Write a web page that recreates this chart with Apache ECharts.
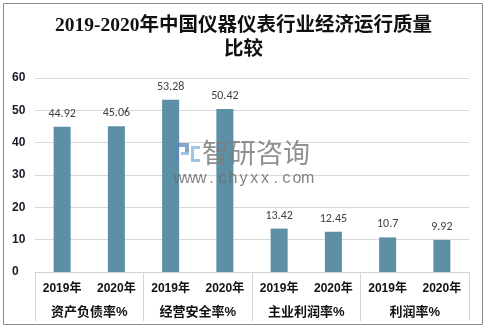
<!DOCTYPE html>
<html>
<head>
<meta charset="utf-8">
<script src="https://cdn.jsdelivr.net/npm/echarts@6/dist/echarts.min.js"></script>
<style>
  html, body { margin: 0; padding: 0; background: #fff; }
  #chart { width: 487px; height: 329px; }
</style>
</head>
<body>
<div id="chart"></div>
<script>
// Indicator groups and years
const groups = ['资产负债率%', '经营安全率%', '主业利润率%', '利润率%'];
const years = ['2019年', '2020年'];
// Values per bar, in order: group by group, 2019 then 2020
const values = [44.92, 45.06, 53.28, 50.42, 13.42, 12.45, 10.7, 9.92];
const yTicks = [0, 10, 20, 30, 40, 50, 60];

const yearCats = [];
groups.forEach(() => years.forEach(y => yearCats.push(y)));

const chart = echarts.init(document.getElementById('chart'), null, { renderer: 'canvas' });

// watermark: logo blocks, brand name and spaced-out web address
const wmColor = '#6f6f6f';
const wm = [
  { type: 'rect', shape: { x: 175, y: 143, width: 14, height: 4 }, style: { fill: '#5f86b8', opacity: 0.75 } },
  { type: 'rect', shape: { x: 175, y: 147, width: 4, height: 15 }, style: { fill: '#5f86b8', opacity: 0.75 } },
  { type: 'rect', shape: { x: 185, y: 147, width: 4, height: 6 }, style: { fill: '#5f86b8', opacity: 0.75 } },
  { type: 'rect', shape: { x: 181, y: 152, width: 8, height: 3 }, style: { fill: '#8dbde3', opacity: 0.85 } },
  { type: 'rect', shape: { x: 191, y: 146, width: 9, height: 3 }, style: { fill: '#8dbde3', opacity: 0.85 } },
  { type: 'rect', shape: { x: 191, y: 149, width: 3, height: 11 }, style: { fill: '#8dbde3', opacity: 0.85 } },
  { type: 'rect', shape: { x: 191, y: 159, width: 9, height: 3 }, style: { fill: '#8dbde3', opacity: 0.85 } },
  {
    type: 'text', left: 202, top: 139,
    style: {
      text: '智研咨询',
      fontFamily: "'Noto Sans CJK SC', sans-serif",
      fontSize: 27,
      fill: '#7d7d7d',
      opacity: 0.85
    }
  }
];
const site = 'www.chyxx.com';
const pitch = 10.7;
site.split('').forEach((ch, i) => {
  wm.push({
    type: 'text',
    x: 174 + pitch * i + pitch / 2,
    y: 179,
    style: {
      text: ch,
      align: 'center',
      verticalAlign: 'middle',
      fontFamily: "'Liberation Sans', Arial, sans-serif",
      fontSize: 16,
      fill: wmColor,
      opacity: 0.85
    }
  });
});
wm.forEach(g => { g.silent = true; g.z = 10; });

const option = {
  backgroundColor: '#fff',
  animation: false,
  title: {
    text: '2019-2020年中国仪器仪表行业经济运行质量\n比较',
    left: 'center',
    top: 9,
    textStyle: {
      fontFamily: "'Liberation Serif', 'Noto Sans CJK SC', serif",
      fontSize: 19.5,
      fontWeight: 'bold',
      color: '#111',
      lineHeight: 24
    }
  },
  grid: { left: 35, right: 18, top: 78, bottom: 57, containLabel: false },
  xAxis: [
    {
      type: 'category',
      data: yearCats,
      position: 'bottom',
      axisLine: { show: true, lineStyle: { color: '#d4d4d4', width: 1 } },
      axisTick: { show: false },
      axisLabel: {
        interval: 0,
        margin: 11,
        fontFamily: "Arial, 'Liberation Sans', 'Noto Sans CJK SC', sans-serif",
        fontSize: 12,
        fontWeight: 'bold',
        color: '#111'
      }
    },
    {
      type: 'category',
      data: groups,
      position: 'bottom',
      axisLine: { show: false },
      axisTick: {
        show: true,
        interval: 0,
        length: 49,
        lineStyle: { color: '#d4d4d4', width: 1 }
      },
      axisLabel: {
        interval: 0,
        margin: 34,
        fontFamily: "Arial, 'Liberation Sans', 'Noto Sans CJK SC', sans-serif",
        fontSize: 13,
        fontWeight: 'bold',
        color: '#111'
      }
    }
  ],
  yAxis: {
    type: 'value',
    min: yTicks[0],
    max: yTicks[yTicks.length - 1],
    interval: 10,
    axisLine: { show: false },
    axisTick: { show: false },
    splitLine: { lineStyle: { color: '#d9d9d9', width: 1 } },
    axisLabel: {
      align: 'left',
      margin: 23,
      fontFamily: "Arial, 'Liberation Sans', sans-serif",
      fontSize: 12,
      fontWeight: 'bold',
      color: '#1a1a2a'
    }
  },
  series: [
    {
      type: 'bar',
      xAxisIndex: 0,
      data: values,
      barWidth: 17,
      itemStyle: { color: '#5d8fa7' },
      label: {
        show: true,
        position: 'top',
        distance: 7,
        fontFamily: "Calibri, 'Liberation Sans', Arial, sans-serif",
        fontSize: 12,
        color: '#404040'
      }
    }
  ],
  graphic: [
    {
      type: 'rect',
      shape: { x: 3.5, y: 3.5, width: 479, height: 321 },
      style: { fill: 'none', stroke: '#8c8c8c', lineWidth: 1 },
      silent: true
    }
  ].concat(wm)
};

chart.setOption(option);
</script>
</body>
</html>
